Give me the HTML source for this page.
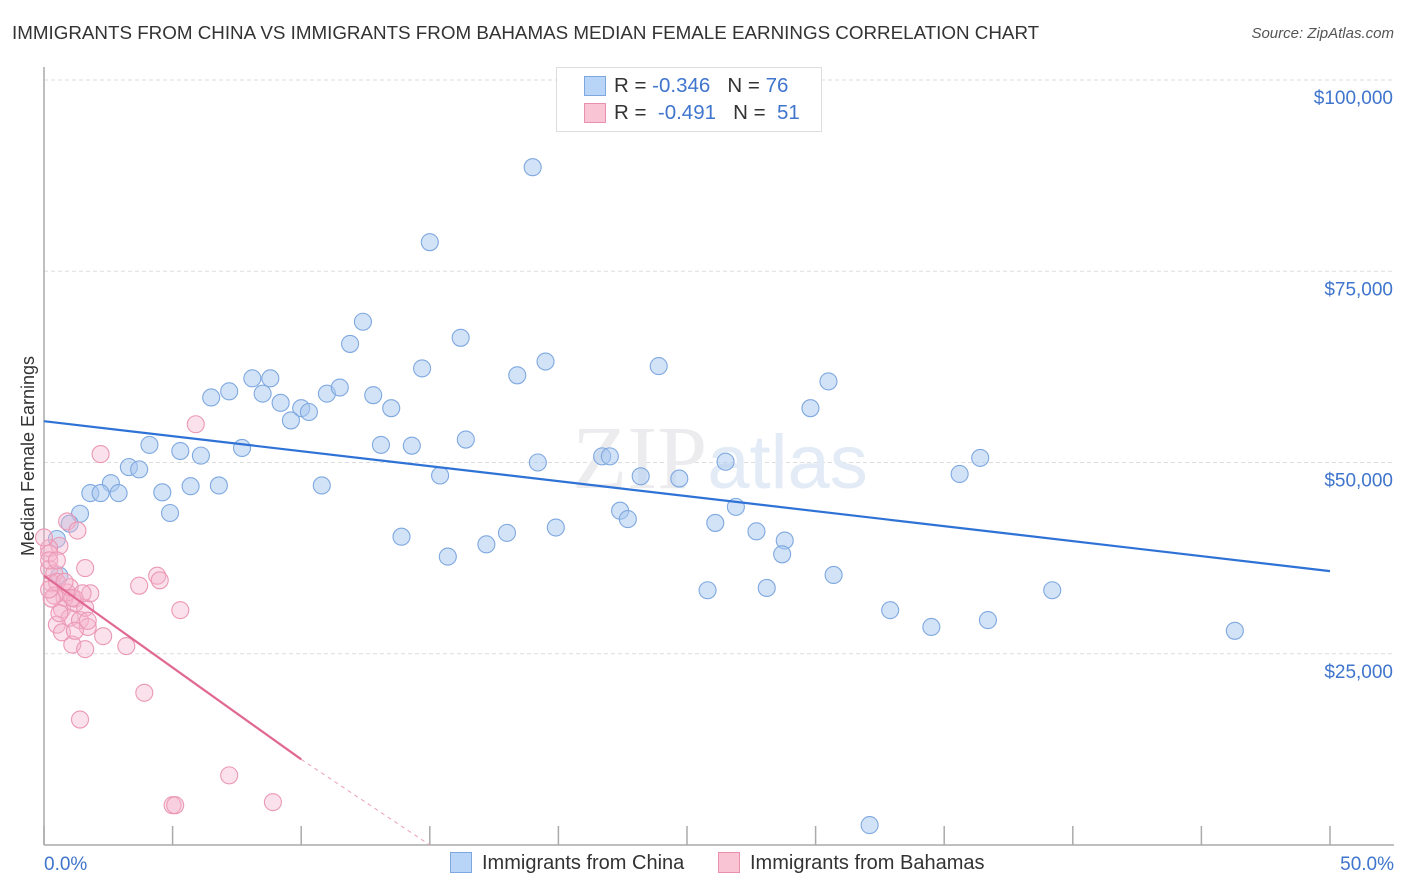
<!DOCTYPE html>
<html><head><meta charset="utf-8"><style>
body{margin:0;background:#fff;font-family:"Liberation Sans",sans-serif;}
#wrap{position:relative;width:1406px;height:892px;overflow:hidden;}
.t{position:absolute;white-space:nowrap;}
</style></head><body>
<div id="wrap">
<div class="t" style="left:12px;top:22px;font-size:18.8px;color:#333;">IMMIGRANTS FROM CHINA VS IMMIGRANTS FROM BAHAMAS MEDIAN FEMALE EARNINGS CORRELATION CHART</div>
<div class="t" style="right:12px;top:25px;font-size:15px;color:#555;font-style:italic;">Source: ZipAtlas.com</div>
<svg id="plot" width="1406" height="892" style="position:absolute;left:0;top:0"></svg>
</div>
<script>
const xTicks=[0,5,10,15,20,25,30,35,40,45,50];
const yTicks=[25000,50000,75000,100000];
const yTickLabels=["$25,000","$50,000","$75,000","$100,000"];
const chinaX=[19,15,12.4,11.9,16.2,19.5,18.4,14.7,23.9,30.5,8.1,8.8,7.2,6.5,8.5,9.2,11,11.5,12.8,13.5,10,10.3,9.6,29.8,4.1,5.3,6.1,7.7,13.1,14.3,16.4,3.3,3.7,2.6,1.8,2.2,2.9,4.6,5.7,6.8,10.8,15.4,19.2,21.7,22,23.2,24.7,26.5,36.4,35.6,26.9,22.4,22.7,26.1,27.7,28.8,28.7,4.9,1.4,1,0.5,13.9,18,19.9,17.2,15.7,0.6,25.8,28.1,30.7,32.9,34.5,36.7,39.2,46.3,32.1];
const chinaY=[88600,78800,68400,65500,66300,63200,61400,62300,62600,60600,61000,61000,59300,58500,59000,57800,59000,59800,58800,57100,57100,56600,55500,57100,52300,51500,50900,51900,52300,52200,53000,49400,49100,47300,46000,46000,46000,46100,46900,47000,47000,48300,50000,50800,50800,48200,47900,50100,50600,48500,44200,43700,42600,42100,41000,39800,38000,43400,43300,42000,40000,40300,40800,41500,39300,37700,35200,33300,33600,35300,30700,28500,29400,33300,28000,2600];
const bahX=[0.9,1.3,0.6,0.2,0.2,0.4,0.3,0.5,1.2,1.6,3.7,4.4,4.5,5.3,0.7,1,0.5,1.4,1.7,2.3,1.1,1.6,3.2,3.9,1.4,7.2,5,5.1,8.9,5.9,2.2,0,0.2,0.8,1.2,0.6,1.6,1.8,0.9,1,0.4,0.3,0.7,1.7,1.2,0.2,0.2,0.8,1.1,1.5,0.5];
const bahY=[42300,41100,39100,38800,36100,35500,34200,34400,32200,36200,33900,35200,34600,30700,30800,29700,28800,29400,28500,27300,26200,25600,26000,19900,16400,9100,5200,5200,5600,55000,51100,40200,38100,32300,31600,30300,31000,32900,33000,33700,32600,32200,27800,29300,28000,37200,33400,34400,32300,32900,37200];
const chinaLine=[[0,55400],[50,35800]];
const bahLine=[[0,35200],[10,11200]];
const bahLineDashEnd=[15,0];

const X0=44,X1=1330,Y0=845,YT=80;
const sx=v=>X0+v/50*(X1-X0);
const sy=v=>Y0-v/100000*(Y0-YT);
const svg=document.getElementById('plot');
const NS='http://www.w3.org/2000/svg';
function mk(tag,attrs,parent){const e=document.createElementNS(NS,tag);for(const k in attrs)e.setAttribute(k,attrs[k]);(parent||svg).appendChild(e);return e;}

yTicks.forEach((v,i)=>{
  const g=mk('line',{x1:X0,x2:1394,y1:sy(v),y2:sy(v),stroke:'#ddd','stroke-dasharray':'4,3'});
  
  
  const t=mk('text',{x:1393,y:sy(v)+24,'text-anchor':'end','font-size':19,fill:'#3f75cc','font-family':'Liberation Sans'});
  t.textContent=yTickLabels[i];
  
  
});
const ax=mk('line',{x1:X0,x2:1394,y1:Y0,y2:Y0,stroke:'#aaa','stroke-width':1.5});


const ay=mk('line',{x1:X0,x2:X0,y1:67,y2:Y0,stroke:'#aaa','stroke-width':1.5});


xTicks.forEach(v=>{
  const l=mk('line',{x1:sx(v),x2:sx(v),y1:826,y2:Y0,stroke:'#aaa','stroke-width':1.5});
  
  
});
[[0,'0.0%','start',44],[50,'50.0%','end',1394]].forEach(a=>{
  const t=mk('text',{x:a[3],y:870,'text-anchor':a[2],'font-size':19,fill:'#3f75cc','font-family':'Liberation Sans'});
  t.textContent=a[1];
  
  
});
const yt=mk('text',{x:34,y:456,'text-anchor':'middle','font-size':18,fill:'#333',transform:'rotate(-90 34 456)','font-family':'Liberation Sans'});
yt.textContent='Median Female Earnings';


const wm=mk('text',{x:720,y:488,'text-anchor':'middle','font-size':90,fill:'#ececef','font-family':'Liberation Serif'});
wm.innerHTML='ZIP<tspan fill="#e2ebf6" font-family="Liberation Sans" font-size="76">atlas</tspan>';



chinaX.forEach((x,i)=>{
  const c=mk('circle',{cx:sx(x),cy:sy(chinaY[i]),r:8.5,fill:'rgba(168,200,240,0.5)',stroke:'#7ea8e0','stroke-width':1.1});
  
  
});
bahX.forEach((x,i)=>{
  const c=mk('circle',{cx:sx(x),cy:sy(bahY[i]),r:8.5,fill:'rgba(246,180,204,0.4)',stroke:'#eb98b4','stroke-width':1.1});
  
  
});
const cl=mk('line',{x1:sx(chinaLine[0][0]),y1:sy(chinaLine[0][1]),x2:sx(chinaLine[1][0]),y2:sy(chinaLine[1][1]),stroke:'#2f72d6','stroke-width':2.2});


const bl=mk('line',{x1:sx(bahLine[0][0]),y1:sy(bahLine[0][1]),x2:sx(bahLine[1][0]),y2:sy(bahLine[1][1]),stroke:'#e06892','stroke-width':2.2});


const bd=mk('line',{x1:sx(bahLine[1][0]),y1:sy(bahLine[1][1]),x2:sx(bahLineDashEnd[0]),y2:sy(bahLineDashEnd[1]),stroke:'#e8a0b8','stroke-width':1,'stroke-dasharray':'4,4'});


</script>
<div class="t" style="left:556px;top:67px;width:264px;height:63px;border:1px solid #ddd;background:#fff;">
 <div style="position:absolute;left:27px;top:8px;width:20px;height:18px;background:#b8d4f6;border:1px solid #7fa8e0;"></div>
 <div style="position:absolute;left:57px;top:6px;font-size:20.5px;color:#333;">R = <span style="color:#3f75cc">-0.346</span> &nbsp; N = <span style="color:#3f75cc">76</span></div>
 <div style="position:absolute;left:27px;top:35px;width:20px;height:18px;background:#f9c4d4;border:1px solid #e890ae;"></div>
 <div style="position:absolute;left:57px;top:33px;font-size:20.5px;color:#333;">R = &nbsp;<span style="color:#3f75cc">-0.491</span> &nbsp; N = &nbsp;<span style="color:#3f75cc">51</span></div>
</div>
<div class="t" style="left:450px;top:852px;font-size:20px;color:#333;"><span style="display:inline-block;width:20px;height:19px;background:#b8d4f6;border:1px solid #7fa8e0;vertical-align:-4px;margin-right:10px;"></span>Immigrants from China</div>
<div class="t" style="left:718px;top:852px;font-size:20px;color:#333;"><span style="display:inline-block;width:20px;height:19px;background:#f9c4d4;border:1px solid #e890ae;vertical-align:-4px;margin-right:10px;"></span>Immigrants from Bahamas</div>
</body></html>
